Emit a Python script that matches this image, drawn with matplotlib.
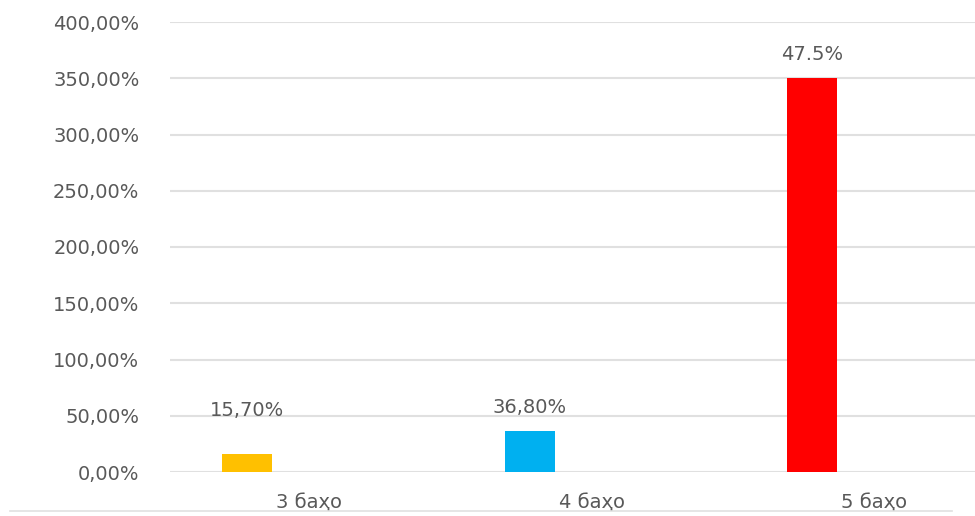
import matplotlib
matplotlib.use("Agg")
from matplotlib import pyplot as plt
from matplotlib.lines import Line2D

categories = ["3 баҳо", "4 баҳо", "5 баҳо"]
values = [15.7, 36.8, 350.0]
value_labels = ["15,70%", "36,80%", "47.5%"]
bar_colors = ["#FFC000", "#00B0F0", "#FF0000"]
y_ticks = [0, 50, 100, 150, 200, 250, 300, 350, 400]
label_offsets = [25, 10, 10]  # points above bar top

fig = plt.figure(figsize=(9.75, 5.16), dpi=100)
ax = fig.add_axes([170 / 975, 44 / 516, 805 / 975, 450 / 516])

x = list(range(len(categories)))
bar_x = [i - 0.219 for i in x]
bars = ax.bar(bar_x, values, width=0.177, color=bar_colors, zorder=3)

for b, txt, off in zip(bars, value_labels, label_offsets):
    ax.annotate(txt, (b.get_x() + b.get_width() / 2, b.get_height()),
                xytext=(0, off), textcoords="offset points",
                ha="center", va="bottom", fontsize=14, color="#595959")

ax.set_xlim(-0.492, 2.357)
ax.set_ylim(0, 400)
ax.set_yticks(y_ticks)
ax.set_yticklabels([f"{v:.2f}".replace(".", ",") + "%" for v in y_ticks])
ax.set_xticks(x)
ax.set_xticklabels(categories)
ax.tick_params(axis="y", length=0, pad=22, labelsize=14, labelcolor="#595959")
ax.tick_params(axis="x", length=0, pad=15, labelsize=14, labelcolor="#595959")
ax.grid(axis="y", color="#E0E0E0", linewidth=1.5, zorder=0)
for s in ax.spines.values():
    s.set_visible(False)

# thin line at the very bottom of the picture
fig.add_artist(Line2D([10 / 975, 952 / 975], [5 / 516, 5 / 516],
                      color="#E0E0E0", linewidth=1.2))

plt.savefig("out.png")
